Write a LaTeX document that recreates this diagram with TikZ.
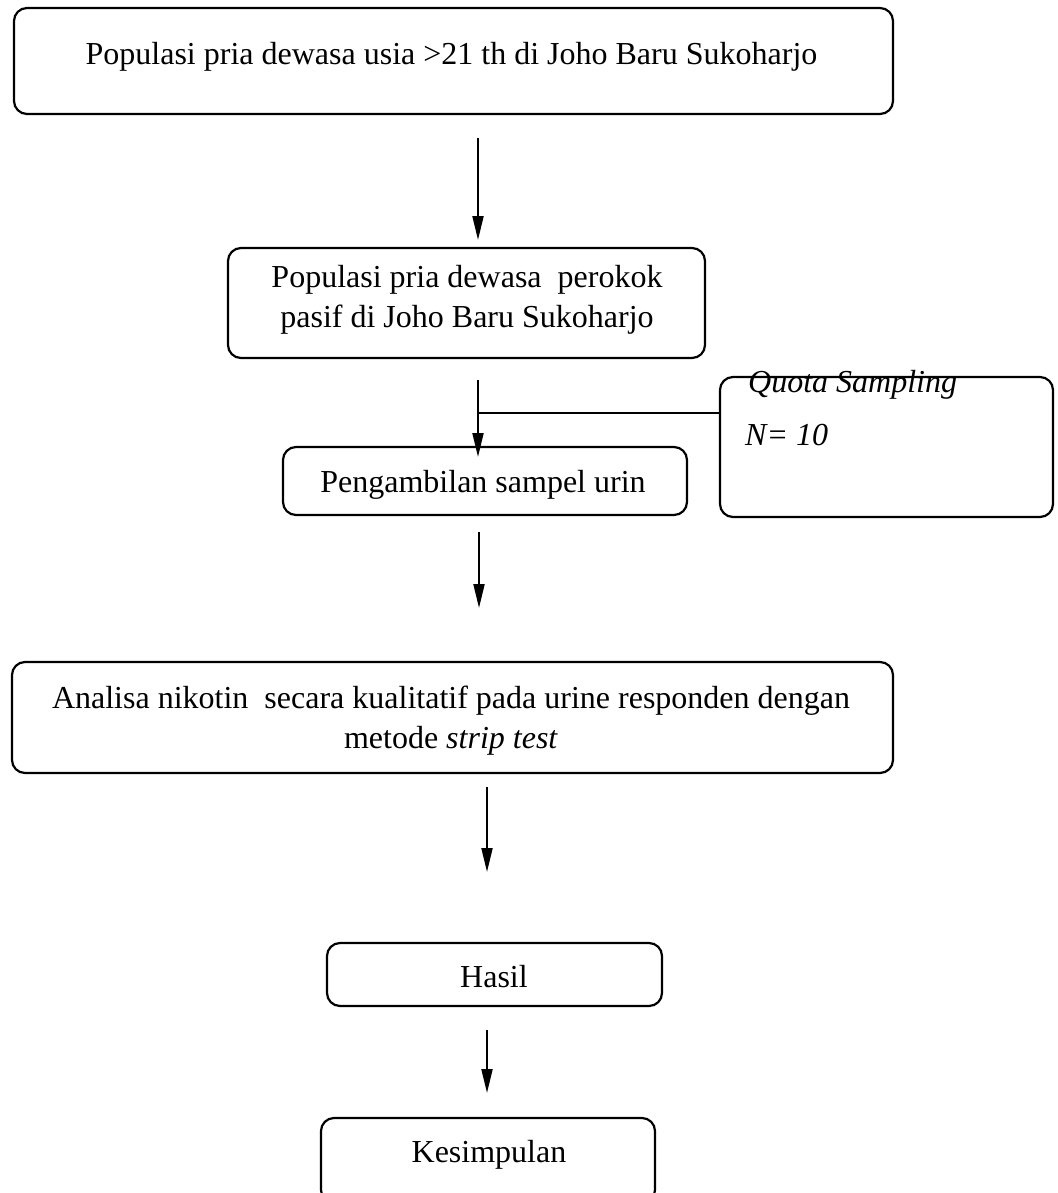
\documentclass[tikz,border=0pt]{standalone}
\usepackage{fontspec}
\setmainfont{Liberation Serif}
\usetikzlibrary{arrows.meta}
\begin{document}
\begin{tikzpicture}[x=1pt,y=-1pt,
  box/.style={draw, line width=2.2pt, rounded corners=13pt, inner sep=0pt},
  lbl/.style={inner sep=0pt, anchor=base, font=\fontsize{32}{40}\selectfont},
  lblw/.style={inner sep=0pt, anchor=base west, font=\fontsize{32}{40}\selectfont},
  arr/.style={line width=2pt, -{Triangle[length=24pt,width=11pt]}},
  ln/.style={line width=1.5pt}]
\useasboundingbox (0,0) rectangle (1057,1193);
\clip (0,0) rectangle (1057,1193);

% boxes
\node[box, minimum width=879pt, minimum height=106pt] (b1) at (453.5,61) {};
\node[box, minimum width=477pt, minimum height=110pt] (b2) at (466.5,303) {};
\node[box, minimum width=404pt, minimum height=68pt] (b3) at (485,481) {};
\node[box, minimum width=333pt, minimum height=140pt] (q) at (886.5,447) {};
\node[box, minimum width=881pt, minimum height=111pt] (b4) at (452.5,717.5) {};
\node[box, minimum width=335pt, minimum height=63pt] (b5) at (494.5,974.5) {};
\node[box, minimum width=334pt, minimum height=85pt] (b6) at (488,1160.5) {};

% texts
\node[lbl] (t1) at (451.5,65) {Populasi pria dewasa usia >21 th di Joho Baru Sukoharjo};
\node[lbl] (t2) at (467,287) {\begin{tabular}[t]{@{}c@{}}Populasi pria dewasa~ perokok\\pasif di Joho Baru Sukoharjo\end{tabular}};
\node[lbl] (t3) at (483,492) {Pengambilan sampel urin};
\node[lblw] (tq1) at (748,392) {\textit{Quota Sampling}};
\node[lblw] (tq2) at (745,445) {\textit{N= 10}};
\node[lbl] (t4) at (451,708) {\begin{tabular}[t]{@{}c@{}}Analisa nikotin~ secara kualitatif pada urine responden dengan\\metode \textit{strip test}\end{tabular}};
\node[lbl] (t5) at (494,987) {Hasil};
\node[lbl] (t6) at (489,1162) {Kesimpulan};

% connector end points
\coordinate (a1s) at (478,138);
\coordinate (a1e) at (478,240);
\coordinate (a2s) at (478,380);
\coordinate (a2e) at (478,457);
\coordinate (a3s) at (479,532);
\coordinate (a3e) at (479,608);
\coordinate (a4s) at (487,787);
\coordinate (a4e) at (487,872);
\coordinate (a5s) at (487,1030);
\coordinate (a5e) at (487,1093);
\coordinate (qj) at (478,413);

\draw[arr] (a1s) -- (a1e);
\draw[arr] (a2s) -- (a2e);
\draw[arr] (a3s) -- (a3e);
\draw[arr] (a4s) -- (a4e);
\draw[arr] (a5s) -- (a5e);
\draw[ln] (qj) -- (qj -| q.west);
\end{tikzpicture}
\end{document}
